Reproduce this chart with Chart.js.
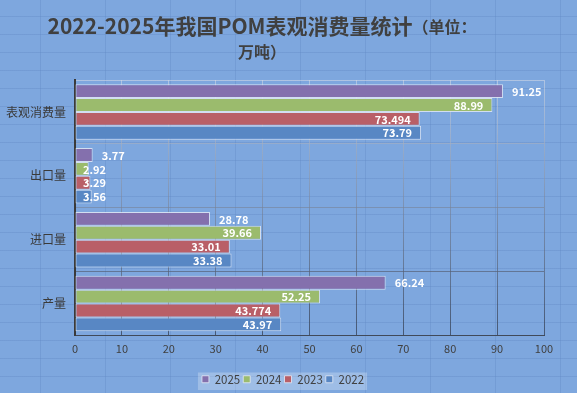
<!DOCTYPE html>
<html>
<head>
<meta charset="utf-8">
<script src="https://cdn.jsdelivr.net/npm/chart.js@4/dist/chart.umd.min.js"></script>
<style>
  html, body { margin: 0; padding: 0; }
  body {
    width: 577px; height: 393px; overflow: hidden;
    background-color: #7ea7de;
    background-image:
      repeating-linear-gradient(90deg, transparent 0 40px, rgba(95,135,195,0.35) 40px 41px, transparent 41px 65px),
      repeating-linear-gradient(180deg, transparent 0 16px, rgba(95,135,195,0.35) 16px 17px, transparent 17px 18px);
  }
  #wrap { position: relative; width: 577px; height: 393px; }
</style>
</head>
<body>
<div id="wrap"><canvas id="chart"></canvas></div>
<script>
/* POM apparent consumption, 2022-2025 (万吨) */
const categories = ['表观消费量', '出口量', '进口量', '产量'];
const years = ['2025', '2024', '2023', '2022'];
const v2025 = [91.25, 3.77, 28.78, 66.24];
const v2024 = [88.99, 2.92, 39.66, 52.25];
const v2023 = [73.494, 3.29, 33.01, 43.774];
const v2022 = [73.79, 3.56, 33.38, 43.97];
const xTicks = [0, 10, 20, 30, 40, 50, 60, 70, 80, 90, 100];

const colors = ['#8470ad', '#9bbb6d', '#b95f67', '#5887c4'];
const FONT = '"Noto Sans CJK SC", "Noto Sans", sans-serif';

// title drawn by hand: main line bold 21px, unit part smaller
const titlePlugin = {
    id: 'titleDraw',
    afterDraw(chart) {
        const ctx = chart.ctx;
        const main = '2022-2025年我国POM表观消费量统计';
        const unit = '（单位：';
        ctx.save();
        ctx.fillStyle = '#404040';
        ctx.textBaseline = 'middle';
        ctx.font = 'bold 21px ' + FONT;
        const w1 = ctx.measureText(main).width;
        ctx.font = 'bold 16px ' + FONT;
        const w2 = ctx.measureText(unit).width;
        const x = 262 - (w1 + w2) / 2;
        ctx.textAlign = 'left';
        ctx.font = 'bold 21px ' + FONT;
        ctx.fillText(main, x, 26);
        ctx.font = 'bold 16px ' + FONT;
        ctx.fillText(unit, x + w1, 27);
        ctx.textAlign = 'center';
        ctx.fillText('万吨）', 262, 52);
        ctx.restore();
    }
};

// nudge the legend to where it sits in the original, plus a light box behind it
const legendBg = {
    id: 'legendBg',
    afterLayout(chart) {
        const lg = chart.legend;
        if (!lg) return;
        const dx = 11, dy = 2;
        lg.left += dx; lg.right += dx; lg.top += dy; lg.bottom += dy;
        (lg.legendHitBoxes || []).forEach((b) => { b.left += dx; b.top += dy; });
    },
    beforeDraw(chart) {
        const boxes = chart.legend && chart.legend.legendHitBoxes;
        if (!boxes || !boxes.length) return;
        const first = boxes[0], last = boxes[boxes.length - 1];
        const ctx = chart.ctx;
        ctx.save();
        ctx.fillStyle = 'rgba(255,255,255,0.25)';
        ctx.fillRect(first.left - 4, first.top - 3, last.left + last.width - first.left + 7, first.height + 6);
        ctx.restore();
    }
};

// value labels: 2025 outside end, others inside end
const valueLabels = {
    id: 'valueLabels',
    afterDatasetsDraw(chart) {
        const ctx = chart.ctx;
        const left = chart.scales.x.getPixelForValue(0);
        ctx.save();
        ctx.font = 'bold 11px ' + FONT;
        ctx.fillStyle = '#ffffff';
        ctx.textBaseline = 'middle';
        ctx.textAlign = 'left';
        chart.data.datasets.forEach((ds, i) => {
            chart.getDatasetMeta(i).data.forEach((bar, j) => {
                const txt = String(ds.data[j]);
                const w = ctx.measureText(txt).width;
                const x = i === 0 ? bar.x + 9 : Math.max(bar.x - 9 - w, left + 8);
                ctx.fillText(txt, x, bar.y + 0.5);
            });
        });
        ctx.restore();
    }
};

function gridGradient(context) {
    const chart = context.chart;
    const area = chart.chartArea;
    if (!area) return 'rgba(80,90,110,0.6)';
    const g = chart.ctx.createLinearGradient(0, area.top, 0, area.bottom);
    g.addColorStop(0, 'rgba(215,220,230,0.55)');
    g.addColorStop(0.5, 'rgba(120,130,150,0.6)');
    g.addColorStop(1, 'rgba(50,60,80,0.75)');
    return g;
}

const sets = [v2025, v2024, v2023, v2022];

new Chart(document.getElementById('chart'), {
    type: 'bar',
    data: {
        labels: categories,
        datasets: years.map((y, i) => ({
            label: y,
            data: sets[i],
            backgroundColor: colors[i],
            borderColor: 'rgba(225,232,245,0.85)',
            borderWidth: 1,
            borderSkipped: false,
            barPercentage: 1,
            categoryPercentage: 0.87,
        })),
    },
    options: {
        indexAxis: 'y',
        responsive: true,
        maintainAspectRatio: false,
        animation: false,
        layout: { padding: { top: 80, left: 0, right: 33, bottom: 0 } },
        plugins: {
            title: { display: false },
            tooltip: { enabled: false },
            legend: {
                position: 'bottom',
                labels: {
                    boxWidth: 7, boxHeight: 7, padding: 3,
                    color: '#404040',
                    font: { family: FONT, size: 11.5 },
                },
            },
        },
        scales: {
            x: {
                min: 0, max: 100,
                afterBuildTicks(scale) { scale.ticks = xTicks.map((v) => ({ value: v })); },
                afterFit(scale) { scale.height = 33; },
                grid: { color: gridGradient, drawTicks: false },
                border: { color: '#404a5a', width: 1 },
                ticks: { color: '#404040', padding: 7, font: { family: FONT, size: 11 } },
            },
            y: {
                afterFit(scale) { scale.width = 75; },
                grid: { color: gridGradient, drawTicks: false, offset: true },
                border: { color: '#3a3a3a', width: 2 },
                ticks: { color: '#3a3a3a', padding: 9, font: { family: FONT, size: 12 } },
            },
        },
    },
    plugins: [titlePlugin, legendBg, valueLabels],
});
</script>
</body>
</html>
